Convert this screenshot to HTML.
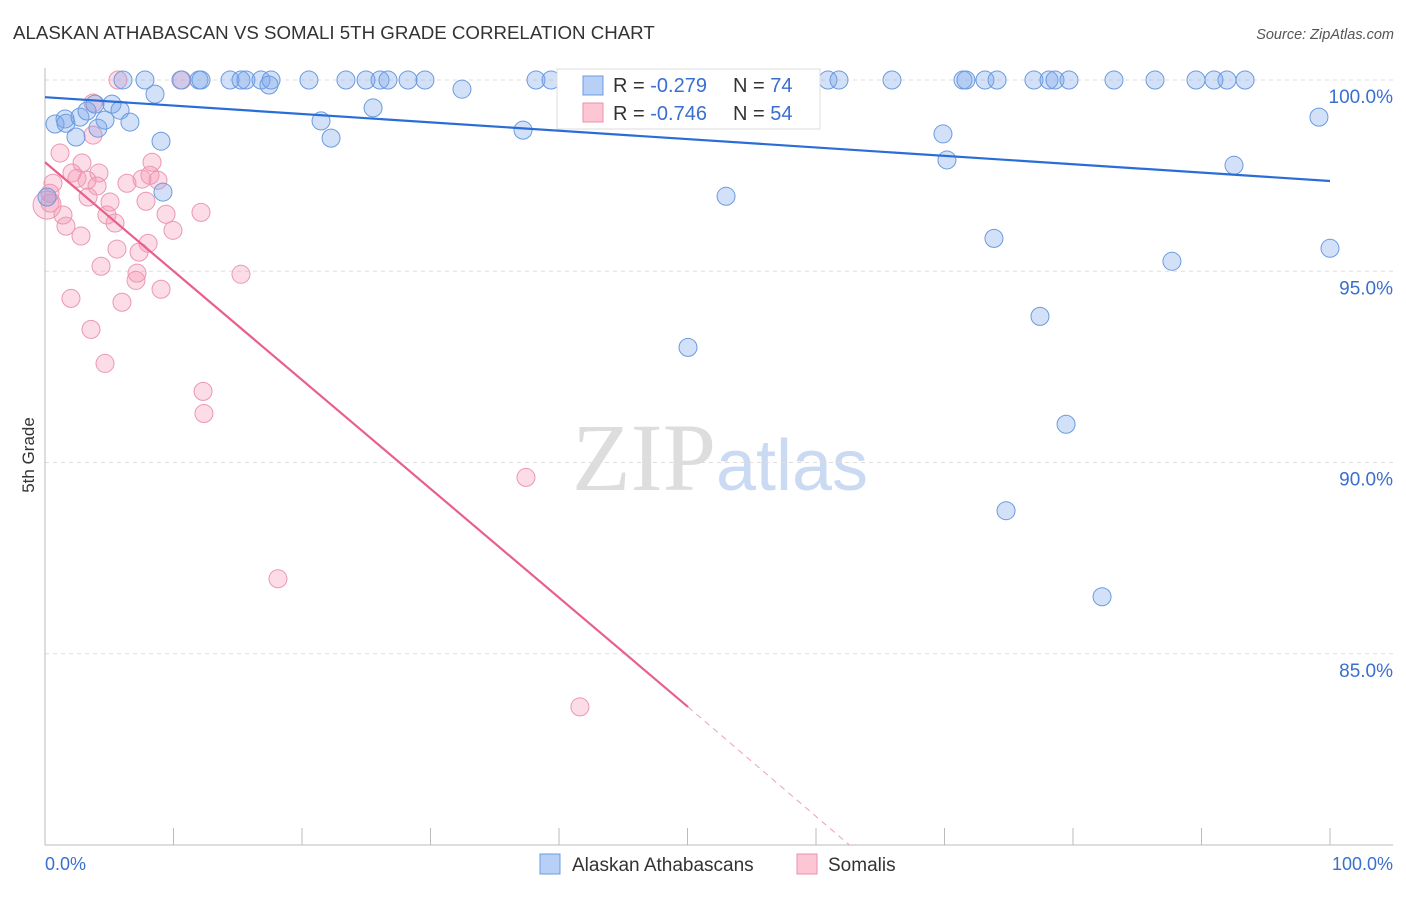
<!DOCTYPE html>
<html><head><meta charset="utf-8"><style>
body{margin:0;background:#fff;font-family:"Liberation Sans",sans-serif}
</style></head><body>
<svg width="1406" height="892" xmlns="http://www.w3.org/2000/svg" font-family="Liberation Sans, sans-serif">
<text x="13" y="39" font-size="18.7" fill="#333">ALASKAN ATHABASCAN VS SOMALI 5TH GRADE CORRELATION CHART</text>
<text x="1394" y="39" font-size="14.5" fill="#555" text-anchor="end" font-style="italic">Source: ZipAtlas.com</text>
<text x="720" y="490" font-size="96" text-anchor="middle" fill="#ddd" font-family="Liberation Serif, serif">ZIP<tspan fill="#c9daf2" font-family="Liberation Sans, sans-serif" font-size="72">atlas</tspan></text>
<g id="grid"></g>
<g id="axes"></g>
<g id="marks"></g>
<text transform="translate(34,455) rotate(-90)" font-size="17" fill="#333" text-anchor="middle">5th Grade</text>
<g>
<rect x="557" y="69" width="263" height="60" fill="#fff" stroke="#ddd"/>
<rect x="583" y="76" width="20" height="19" fill="#b8d0f5" stroke="#6a9be0"/>
<rect x="583" y="103" width="20" height="19" fill="#fcc6d5" stroke="#e890aa"/>
<text x="613" y="92" font-size="20" fill="#333">R = <tspan fill="#3a6fd0">-0.279</tspan></text>
<text x="733" y="92" font-size="20" fill="#333">N = <tspan fill="#3a6fd0">74</tspan></text>
<text x="613" y="120" font-size="20" fill="#333">R = <tspan fill="#3a6fd0">-0.746</tspan></text>
<text x="733" y="120" font-size="20" fill="#333">N = <tspan fill="#3a6fd0">54</tspan></text>
</g>
<g>
<rect x="540" y="854" width="20" height="20" fill="#b8d0f5" stroke="#6a9be0"/>
<text x="572" y="871" font-size="19" fill="#333">Alaskan Athabascans</text>
<rect x="797" y="854" width="20" height="20" fill="#fcc6d5" stroke="#e890aa"/>
<text x="828" y="871" font-size="19" fill="#333">Somalis</text>
</g>
</svg>
<script>
const yTicks=[85,90,95,100];
const yTickLabels=["85.0%","90.0%","95.0%","100.0%"];
const xTickLabels=["0.0%","100.0%"];
const blueX=[6.07,7.78,8.56,10.58,11.98,12.14,14.40,15.25,15.64,16.81,17.59,17.43,20.54,21.48,22.26,23.42,24.98,25.53,26.07,26.69,28.25,29.57,32.45,37.2,38.21,39.38,41.25,53.0,50.04,60.93,61.79,65.91,69.88,70.19,71.44,71.67,73.15,74.09,73.85,76.96,78.13,78.6,79.69,77.43,79.46,74.79,82.26,83.19,86.38,87.7,89.57,90.97,91.98,93.39,92.53,99.14,100,0.78,1.56,1.63,2.41,2.72,3.27,3.89,4.12,4.67,5.21,5.84,6.61,9.03,9.18,0.16];
const blueY=[100,100,99.63,100,100,100,100,100,100,100,100,99.87,100,98.93,98.48,100,100,99.27,100,100,100,100,99.76,98.69,100,100,100,96.96,93.01,100,100,100,98.59,97.91,100,100,100,100,95.86,100,100,100,100,93.82,91.0,88.74,86.49,100,100,95.26,100,100,100,100,97.77,99.03,95.6,98.85,98.98,98.87,98.51,99.03,99.19,99.37,98.74,98.95,99.37,99.21,98.9,98.4,97.07,96.94];
const pinkX=[5.68,10.66,3.74,3.74,1.17,8.33,2.88,4.2,2.1,2.49,3.27,4.05,6.38,7.55,8.17,8.79,0.62,0.39,0.39,3.35,5.06,7.86,9.42,12.14,4.82,5.45,1.4,1.63,2.8,9.96,8.02,5.6,7.32,4.36,7.16,7.08,9.03,15.25,2.02,5.99,3.58,4.67,12.3,12.37,37.43,18.13,41.63,0.16];
const pinkY=[100,100,99.40,98.56,98.09,97.85,97.83,97.57,97.57,97.43,97.38,97.23,97.30,97.41,97.51,97.38,97.30,97.04,96.78,96.94,96.81,96.83,96.49,96.54,96.47,96.26,96.47,96.18,95.92,96.07,95.73,95.58,95.5,95.13,94.95,94.76,94.53,94.92,94.29,94.19,93.48,92.59,91.86,91.28,89.61,86.96,83.61,96.73];
const blueTrend=[[0,99.55],[100,97.36]];
const pinkTrend=[[0,97.85],[50.04,83.61]];
const pinkTrendExt=[[50.04,83.61],[62.6,80]];
const NS="http://www.w3.org/2000/svg";
const X=v=>45+v*12.85, Y=v=>80+(100-v)*38.25;
function mk(tag,attrs,parent){const e=document.createElementNS(NS,tag);for(const k in attrs)e.setAttribute(k,attrs[k]);document.getElementById(parent).appendChild(e);return e;}
yTicks.forEach((t,i)=>{
 const g=mk('line',{x1:45,x2:1393,y1:Y(t),y2:Y(t),stroke:'#ddd','stroke-dasharray':'4,4'},'grid');
 
 
 const l=mk('text',{x:1393,y:Y(t)+23,'font-size':19,fill:'#3a6fd0','text-anchor':'end'},'grid');
 l.textContent=yTickLabels[i];
 
 
});
const ax=mk('line',{x1:45,x2:1393,y1:845,y2:845,stroke:'#bbb'},'axes');


const ay=mk('line',{x1:45,x2:45,y1:68,y2:845,stroke:'#bbb'},'axes');


for(let i=0;i<=10;i++){
 const t=mk('line',{x1:X(i*10),x2:X(i*10),y1:828,y2:845,stroke:'#bbb'},'axes');
 
 
}
[[0,'start',45],[1,'end',1393]].forEach(([i,a,x])=>{
 const l=mk('text',{x:x,y:870,'font-size':18,fill:'#3a6fd0','text-anchor':a},'axes');
 l.textContent=xTickLabels[i];
 
 
});
pinkX.forEach((v,i)=>{
 const c=mk('circle',{cx:X(v),cy:Y(pinkY[i]),r:i==pinkX.length-1?14:9,fill:'rgba(245,150,180,0.33)',stroke:'#eb98b2','stroke-width':1},'marks');
 
 
});
blueX.forEach((v,i)=>{
 const c=mk('circle',{cx:X(v),cy:Y(blueY[i]),r:9,fill:'rgba(120,165,235,0.33)',stroke:'#6a9be0','stroke-width':1},'marks');
 
 
});
const bl=mk('line',{x1:X(blueTrend[0][0]),y1:Y(blueTrend[0][1]),x2:X(blueTrend[1][0]),y2:Y(blueTrend[1][1]),stroke:'#2a6dd6','stroke-width':2.2},'marks');


const pl=mk('line',{x1:X(pinkTrend[0][0]),y1:Y(pinkTrend[0][1]),x2:X(pinkTrend[1][0]),y2:Y(pinkTrend[1][1]),stroke:'#e8608c','stroke-width':2.2},'marks');


const pe=mk('line',{x1:X(pinkTrendExt[0][0]),y1:Y(pinkTrendExt[0][1]),x2:X(pinkTrendExt[1][0]),y2:Y(pinkTrendExt[1][1]),stroke:'#eca0b8','stroke-width':1,'stroke-dasharray':'6,5'},'marks');


</script>
</body></html>
